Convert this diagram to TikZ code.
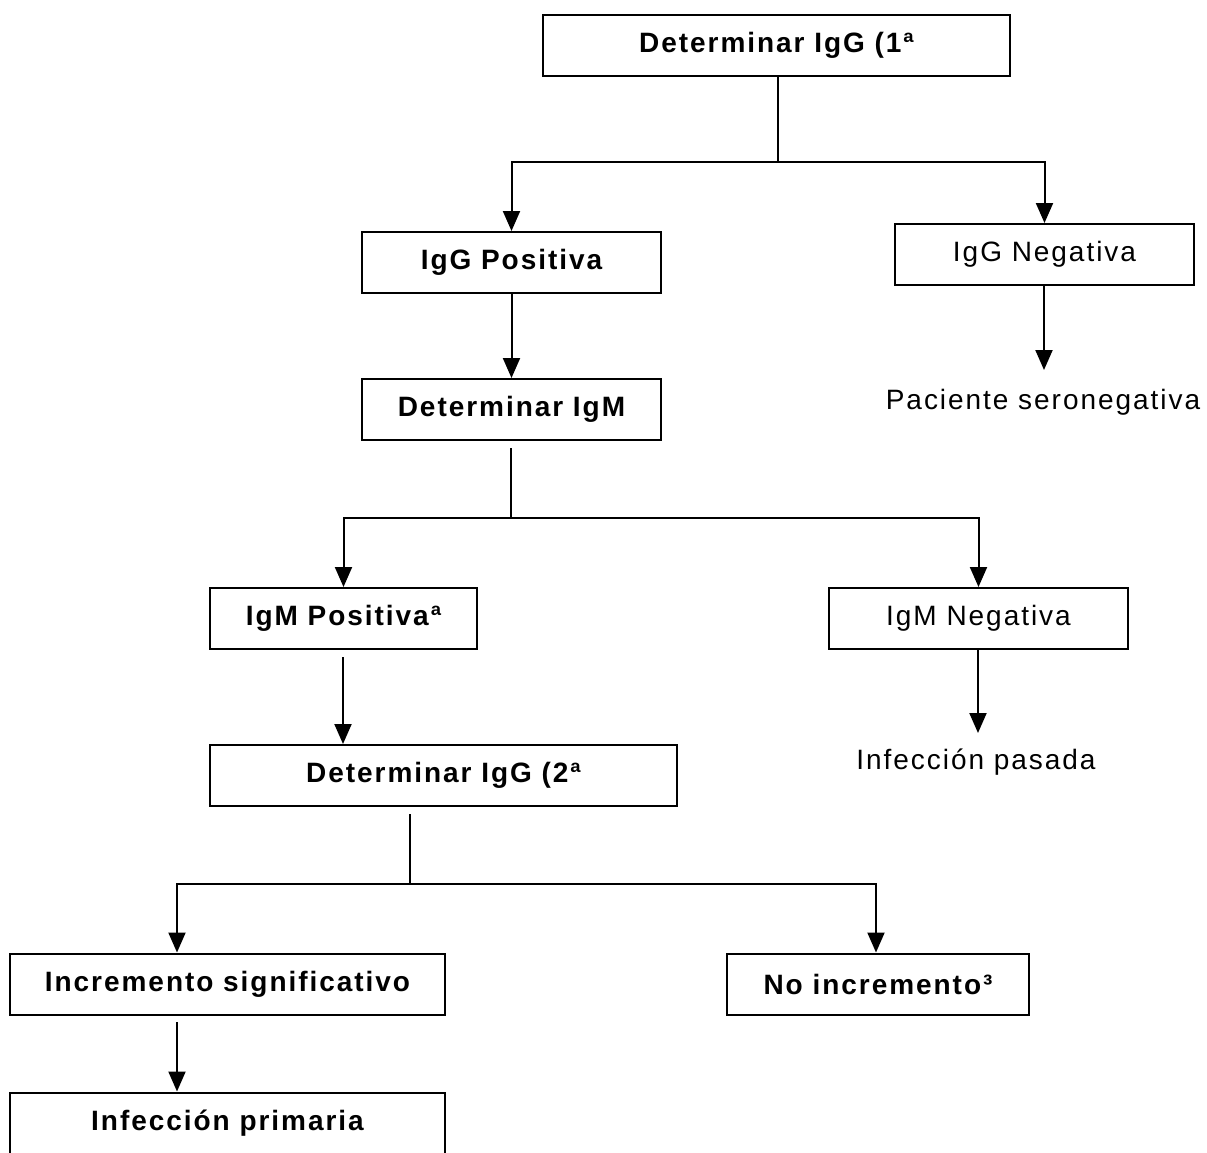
\documentclass[tikz,border=0pt]{standalone}
\usepackage{fontspec}
\setmainfont[LetterSpace=7]{Liberation Sans}
\usepackage{tikz}
\usetikzlibrary{calc,arrows.meta,positioning}
\tikzset{
  ar/.style={-{Triangle[length=10pt,width=8.5pt]},line width=1pt,black},
  ln/.style={line width=1pt,black},
  box/.style={draw,line width=1pt,fill=white,align=center,inner sep=2pt,minimum height=30.5pt,font=\fontsize{14}{16}\selectfont\bfseries},
  boxn/.style={box,font=\fontsize{14}{16}\selectfont},
  txt/.style={inner sep=0pt,font=\fontsize{14}{16}\selectfont}
}
\begin{document}
\begin{tikzpicture}[x=0.5pt,y=-0.5pt]
\useasboundingbox (0,0) rectangle (1207,1153);
\node[box,minimum width=233.5pt] (G1) at (776.5,45) {Determinar IgG (1ª};
\node[box,minimum width=149.5pt] (GP) at (511.5,262.5) {IgG Positiva};
\node[boxn,minimum width=149.5pt] (GN) at (1044.5,254.5) {IgG Negativa};
\node[txt] (PS) at (1043,402) {Paciente seronegativa};
\node[box,minimum width=149.5pt] (DM) at (511.5,409.5) {Determinar IgM};
\node[box,minimum width=133.5pt] (MP) at (343.5,618.5) {IgM Positivaª};
\node[boxn,minimum width=149.5pt] (MN) at (978.5,618.5) {IgM Negativa};
\node[txt] (IP) at (976,762) {Infección pasada};
\node[box,minimum width=233.5pt] (G2) at (443.5,775.5) {Determinar IgG (2ª};
\node[box,minimum width=217.5pt] (IS) at (227.5,984) {Incremento significativo};
\node[box,minimum width=151pt] (NI) at (878,984) {No incremento³};
\node[box,minimum width=217.5pt] (PR) at (227.5,1123) {Infección primaria};
% junctions
\coordinate (j1) at (778,162);
\coordinate (s2) at (511,448);
\coordinate (j2) at (511,518);
\coordinate (s3) at (343,657);
\coordinate (s4) at (410,814);
\coordinate (j4) at (410,884);
\coordinate (s5) at (177,1022);
\coordinate (t1) at (1044,370);
\coordinate (t2) at (978,733);
% connectors
\draw[ln] (G1.south-|j1)--(j1);
\draw[ar] (j1)-|(GP.north);
\draw[ar] (j1)-|(GN.north);
\draw[ar] (GP)--(DM);
\draw[ar] (GN.south-|t1)--(t1);
\draw[ln] (s2)--(j2);
\draw[ar] (j2)-|(MP.north);
\draw[ar] (j2)-|(MN.north);
\draw[ar] (s3)--(s3|-G2.north);
\draw[ar] (MN.south-|t2)--(t2);
\draw[ln] (s4)--(j4);
\draw[ar] (j4)-|(IS.north-|s5);
\draw[ar] (j4)-|(NI.north-|876,0);
\draw[ar] (s5)--(s5|-PR.north);
\end{tikzpicture}
\end{document}
